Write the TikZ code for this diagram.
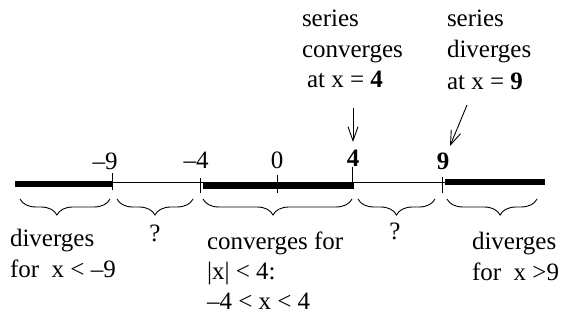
\documentclass[tikz,border=0pt]{standalone}
\usepackage{fontspec}
\setmainfont{Liberation Serif}
\usetikzlibrary{decorations.pathreplacing,arrows.meta}
\begin{document}
\begin{tikzpicture}[x=1pt,y=-1pt,
  txt/.style={inner sep=0pt,outer sep=0pt,font=\fontsize{25}{30}\selectfont},
  thin line/.style={line width=1pt},
  thick seg/.style={line width=5.5pt},
  tick/.style={line width=1pt},
  brc/.style={line width=0.9pt,decorate,decoration={brace,mirror,amplitude=16pt,aspect=#1}},
  brc/.default=0.5,
  pointer/.style={line width=0.9pt,-{Straight Barb[length=14pt,width=10pt,line width=0.9pt]}}]
\useasboundingbox (0,0) rectangle (565,320);
% axis
\coordinate (L) at (15,183);
\coordinate (R) at (545,183);
\draw[thin line] (L) -- (R);
\coordinate (tl1) at (15,184); \coordinate (tl2) at (112,184);
\coordinate (tm1) at (203,186); \coordinate (tm2) at (354,186);
\coordinate (tr1) at (445,182); \coordinate (tr2) at (545,182);
\draw[thick seg] (tl1) -- (tl2);
\draw[thick seg] (tm1) -- (tm2);
\draw[thick seg] (tr1) -- (tr2);
% ticks
\coordinate (k9a) at (112,173); \coordinate (k9b) at (112,190);
\coordinate (k4a) at (200,178); \coordinate (k4b) at (200,193);
\coordinate (k0a) at (277,175); \coordinate (k0b) at (277,193);
\coordinate (p4a) at (352,167); \coordinate (p4b) at (352,189);
\coordinate (p9a) at (442,177); \coordinate (p9b) at (442,193);
\draw[tick] (k9a) -- (k9b);
\draw[tick] (k4a) -- (k4b);
\draw[tick] (k0a) -- (k0b);
\draw[tick] (p4a) -- (p4b);
\draw[tick] (p9a) -- (p9b);
% number labels
\node[txt,anchor=base] (nm9) at (105,170) {–9};
\node[txt,anchor=base] (nm4) at (196,169) {–4};
\node[txt,anchor=base] (n0) at (277,169) {0};
\node[txt,anchor=base] (n4) at (353,167) {\textbf{4}};
\node[txt,anchor=base] (n9) at (443,170) {\textbf{9}};
% braces
\coordinate (b1a) at (20,199); \coordinate (b1b) at (110,199);
\coordinate (b2a) at (117,199); \coordinate (b2b) at (193,199);
\coordinate (b3a) at (203,199); \coordinate (b3b) at (352,199);
\coordinate (b4a) at (358,199); \coordinate (b4b) at (435,199);
\coordinate (b5a) at (447,199); \coordinate (b5b) at (537,199);
\draw[brc=0.41] (b1a) -- (b1b);
\draw[brc] (b2a) -- (b2b);
\draw[brc=0.47] (b3a) -- (b3b);
\draw[brc] (b4a) -- (b4b);
\draw[brc=0.59] (b5a) -- (b5b);
% question marks
\node[txt,anchor=base] (q1) at (155,242) {?};
\node[txt,anchor=base] (q2) at (395,240) {?};
% bottom labels
\node[txt,anchor=base west] (dl1) at (10,247) {diverges};
\node[txt,anchor=base west] (dl2) at (10,278) {for\ \ x < –9};
\node[txt,anchor=base west] (c1) at (207,250) {converges for};
\node[txt,anchor=base west] (c2) at (207,280) {|x| < 4:};
\node[txt,anchor=base west] (c3) at (207,310) {–4 < x < 4};
\node[txt,anchor=base west] (dr1) at (472,250) {diverges};
\node[txt,anchor=base west] (dr2) at (472,281) {for\ \ x >9};
% top labels
\node[txt,anchor=base west] (s1) at (302,27) {series};
\node[txt,anchor=base west] (s2) at (302,58) {converges};
\node[txt,anchor=base west] (s3) at (307,88) {at x = \textbf{4}};
\node[txt,anchor=base west] (t1) at (447,27) {series};
\node[txt,anchor=base west] (t2) at (447,58) {diverges};
\node[txt,anchor=base west] (t3) at (447,90) {at x = \textbf{9}};
% pointers
\coordinate (a1s) at (353,108); \coordinate (a1e) at (353,142);
\coordinate (a2s) at (467,105); \coordinate (a2e) at (450,146);
\draw[pointer] (a1s) -- (a1e);
\draw[pointer] (a2s) -- (a2e);
\end{tikzpicture}
\end{document}
